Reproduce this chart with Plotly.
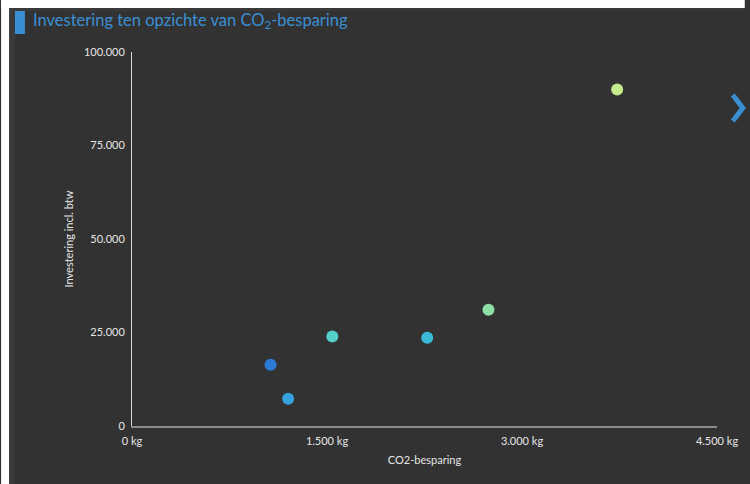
import plotly.graph_objects as go

# ---- data ----
co2_kg = [1066, 1201, 1541, 2271, 2742, 3732]
investering = [16400, 7300, 23900, 23600, 31100, 90000]
point_colors = ["#2a7bd5", "#36a3e0", "#55d0c8", "#3bbbd8", "#8ce0a6", "#c6eb8c"]

x_tickvals = [0, 1500, 3000, 4500]
x_ticktext = ["0 kg", "1.500 kg", "3.000 kg", "4.500 kg"]
y_tickvals = [0, 25000, 50000, 75000, 100000]
y_ticktext = ["0", "25.000", "50.000", "75.000", "100.000"]

title_text = "Investering ten opzichte van CO<sub>2</sub>-besparing"
x_title = "CO2-besparing"
y_title = "Investering incl. btw"

# ---- layout geometry (page coordinates == figure coordinates) ----
W, H = 750, 484
L, R, T, B = 132, 28, 52, 58
PW, PH = W - L - R, H - T - B
BG = "#323232"
BLUE = "#3a8fd3"


def px(page_x):
    return (page_x - L) / PW


def py(page_y):
    return (H - B - page_y) / PH


fig = go.Figure()
fig.add_trace(go.Scatter(
    x=co2_kg, y=investering, mode="markers",
    marker=dict(size=12, color=point_colors, line=dict(width=0)),
    hoverinfo="x+y", showlegend=False,
))

shapes = [
    # white outer border (top / left)
    dict(type="rect", xref="paper", yref="paper", x0=px(0), x1=px(8), y0=py(H), y1=py(0),
         fillcolor="white", line=dict(width=0)),
    dict(type="rect", xref="paper", yref="paper", x0=px(0), x1=px(W), y0=py(8), y1=py(0),
         fillcolor="white", line=dict(width=0)),
    # lighter left strip and top line
    dict(type="rect", xref="paper", yref="paper", x0=px(8), x1=px(14), y0=py(H), y1=py(8),
         fillcolor="#3a3a3a", line=dict(width=0), layer="below"),
    dict(type="rect", xref="paper", yref="paper", x0=px(8), x1=px(W), y0=py(11), y1=py(8),
         fillcolor="#3a3a3a", line=dict(width=0), layer="below"),
    # blue title marker
    dict(type="rect", xref="paper", yref="paper", x0=px(14), x1=px(24), y0=py(34), y1=py(11),
         fillcolor=BLUE, line=dict(width=0)),
    # chevron
    dict(type="path", xref="paper", yref="paper",
         path=f"M {px(738)} {py(95)} L {px(748)} {py(108)} L {px(738)} {py(121)}",
         line=dict(color=BLUE, width=5)),
]

fig.update_layout(
    width=W, height=H, autosize=False,
    margin=dict(l=L, r=R, t=T, b=B, pad=0),
    paper_bgcolor=BG, plot_bgcolor=BG,
    font=dict(family="Lato", color="#e6e6e6", size=11),
    separators=",.",
    shapes=shapes,
    annotations=[dict(
        text=title_text, xref="paper", yref="paper", x=px(30), y=py(21),
        xanchor="left", yanchor="middle", showarrow=False,
        font=dict(family="Lato", size=16.5, color=BLUE),
    )],
    xaxis=dict(
        range=[0, 4500], tickvals=x_tickvals, ticktext=x_ticktext,
        showgrid=False, zeroline=False, showline=True, linecolor="#8a8a8a", linewidth=2,
        ticks="outside", ticklen=4, tickcolor=BG,
        title=dict(text=x_title, standoff=10, font=dict(size=11)),
        fixedrange=True,
    ),
    yaxis=dict(
        range=[0, 100000], tickvals=y_tickvals, ticktext=y_ticktext,
        showgrid=False, zeroline=False, showline=True, linecolor="#d8d8d8", linewidth=1,
        ticks="outside", ticklen=4, tickcolor=BG,
        title=dict(text=y_title, standoff=8, font=dict(size=11)),
        fixedrange=True,
    ),
)

fig.write_html(
    "out.html",
    config={"responsive": False, "displayModeBar": False},
    post_script=(
        "document.body.style.margin='0';"
        "document.documentElement.style.overflow='hidden';"
        "document.body.style.overflow='hidden';"
    ),
)
